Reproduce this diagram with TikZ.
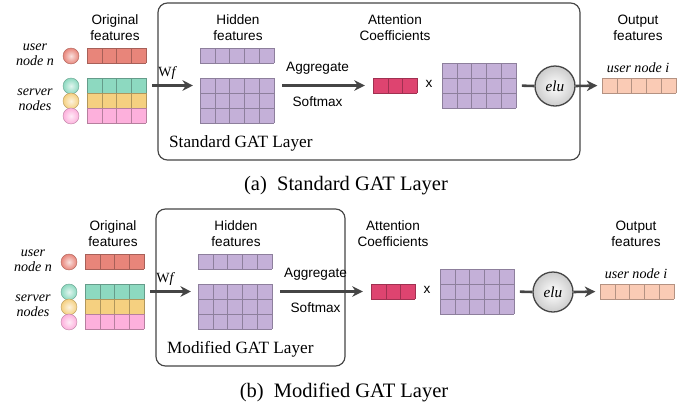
\documentclass[tikz,border=0pt]{standalone}
\usepackage{fontspec}
\setmainfont{Liberation Serif}
\setsansfont{Liberation Sans}
\usetikzlibrary{arrows.meta}

\definecolor{usrred}{HTML}{E8857A}
\definecolor{srvgreen}{HTML}{8DD9C0}
\definecolor{srvorange}{HTML}{F5D080}
\definecolor{srvpink}{HTML}{FDB0DC}
\definecolor{hidpurple}{HTML}{C4B0D8}
\definecolor{attred}{HTML}{DE4470}
\definecolor{outpeach}{HTML}{FACBB5}
\definecolor{arrgray}{HTML}{454545}

\def\cw{0.444cm}
\def\ch{0.45cm}

% a block of feature cells: name, x, y (top left), columns, rows, colour
\newcommand{\cells}[6]{%
  \node[block, minimum width={#4*\cw}, minimum height={#5*\ch}] (#1) at (#2,#3) {};
  \begin{scope}[shift={(#1.south west)}]
    \fill[#6] (0pt,0pt) rectangle ({#4*\cw},{#5*\ch});
    \draw[#6!72!black, line width=0.5pt] (0pt,0pt) grid[xstep=\cw, ystep=\ch] ({#4*\cw},{#5*\ch});
  \end{scope}}

\tikzset{
  block/.style={rectangle, inner sep=0pt, outer sep=0pt, anchor=north west},
  lbl/.style={font=\sffamily\fontsize{11.6}{13.6}\selectfont, align=center},
  itl/.style={font=\itshape\fontsize{12}{12.8}\selectfont, align=center},
  ball/.style={circle, inner sep=0pt, minimum size=0.48cm, draw=#1!75!black, line width=0.4pt,
    inner color=#1!25!white, outer color=#1},
  elubox/.style={circle, inner sep=0pt, minimum size=1.2cm, draw=arrgray, line width=1.1pt,
    inner color=white, outer color=gray!40, font=\itshape\fontsize{13}{15}\selectfont},
  frame/.style={draw=arrgray, line width=1pt, rounded corners=8pt},
  link/.style={draw=arrgray, line width=2.2pt},
  arr/.style={link, -{Stealth[length=9pt,width=9pt]}},
}

\begin{document}
\begin{tikzpicture}[x=0.03cm, y=-0.03cm]
\useasboundingbox (0,0) rectangle (697,412);
\foreach \dx/\dy/\bx/\layname/\sub in {0/0/580/Standard/a, -2/206/347/Modified/b}{
\begin{scope}[shift={(\dx,\dy)}]
% the GAT layer frame
\draw[frame] (158,3) rectangle (\bx,160);
\node[anchor=west, font=\fontsize{14.7}{17}\selectfont] (lay) at (165,143) {\layname\ GAT Layer};
% original features
\node[lbl] (origt) at (115,28) {Original\\features};
\node[itl] (usrt) at (35,55) {user\\node n};
\node[itl] (srvt) at (35,100) {server\\nodes};
\node[ball=usrred] (usrc) at (71,56) {};
\node[ball=srvgreen] (grnc) at (71,86) {};
\node[ball=srvorange] (orac) at (71,101) {};
\node[ball=srvpink] (pnkc) at (71,116) {};
\cells{usr}{87}{48}{4}{1}{usrred}
\cells{grn}{87}{78}{4}{1}{srvgreen}
\cells{ora}{87}{93}{4}{1}{srvorange}
\cells{pnk}{87}{108}{4}{1}{srvpink}
% hidden features
\node[lbl] (hidt) at (238,28) {Hidden\\features};
\cells{hid}{200}{48}{5}{1}{hidpurple}
\cells{hidm}{200}{78}{5}{3}{hidpurple}
\draw[arr, shorten <=5pt, shorten >=6pt] (grn.east) -- (hidm.west |- grn.east)
  node[pos=0.4, above=1pt, font=\fontsize{12}{14}\selectfont] {W\textit{f}};
% attention coefficients
\node[lbl] (attt) at (395,28) {Attention\\Coefficients};
\cells{att}{373}{78}{3}{1}{attred}
\draw[arr, shorten <=7pt, shorten >=7pt] (hidm.east |- att.west) -- (att.west)
  node[lbl, pos=0.44, above=5pt] (aggt) {Aggregate}
  node[lbl, pos=0.44, below=5pt] (smt) {Softmax};
\node[lbl] (times) at (429,84) {x};
\cells{mat}{442}{63}{5}{3}{hidpurple}
\node[elubox] (elu) at (555,86) {elu};
\draw[link, shorten <=5pt] (mat.east) -- (elu.west);
% output features
\node[lbl] (outt) at (638,28) {Output\\features};
\node[itl] (usri) at (638,68) {user node i};
\cells{out}{602}{78}{5}{1}{outpeach}
\draw[arr, shorten >=4pt] (elu.east) -- (out.west);
\node[font=\fontsize{17.5}{20}\selectfont] (capt) at (346,186) {(\sub)\enspace\layname\ GAT Layer};
\end{scope}}
\end{tikzpicture}
\end{document}
